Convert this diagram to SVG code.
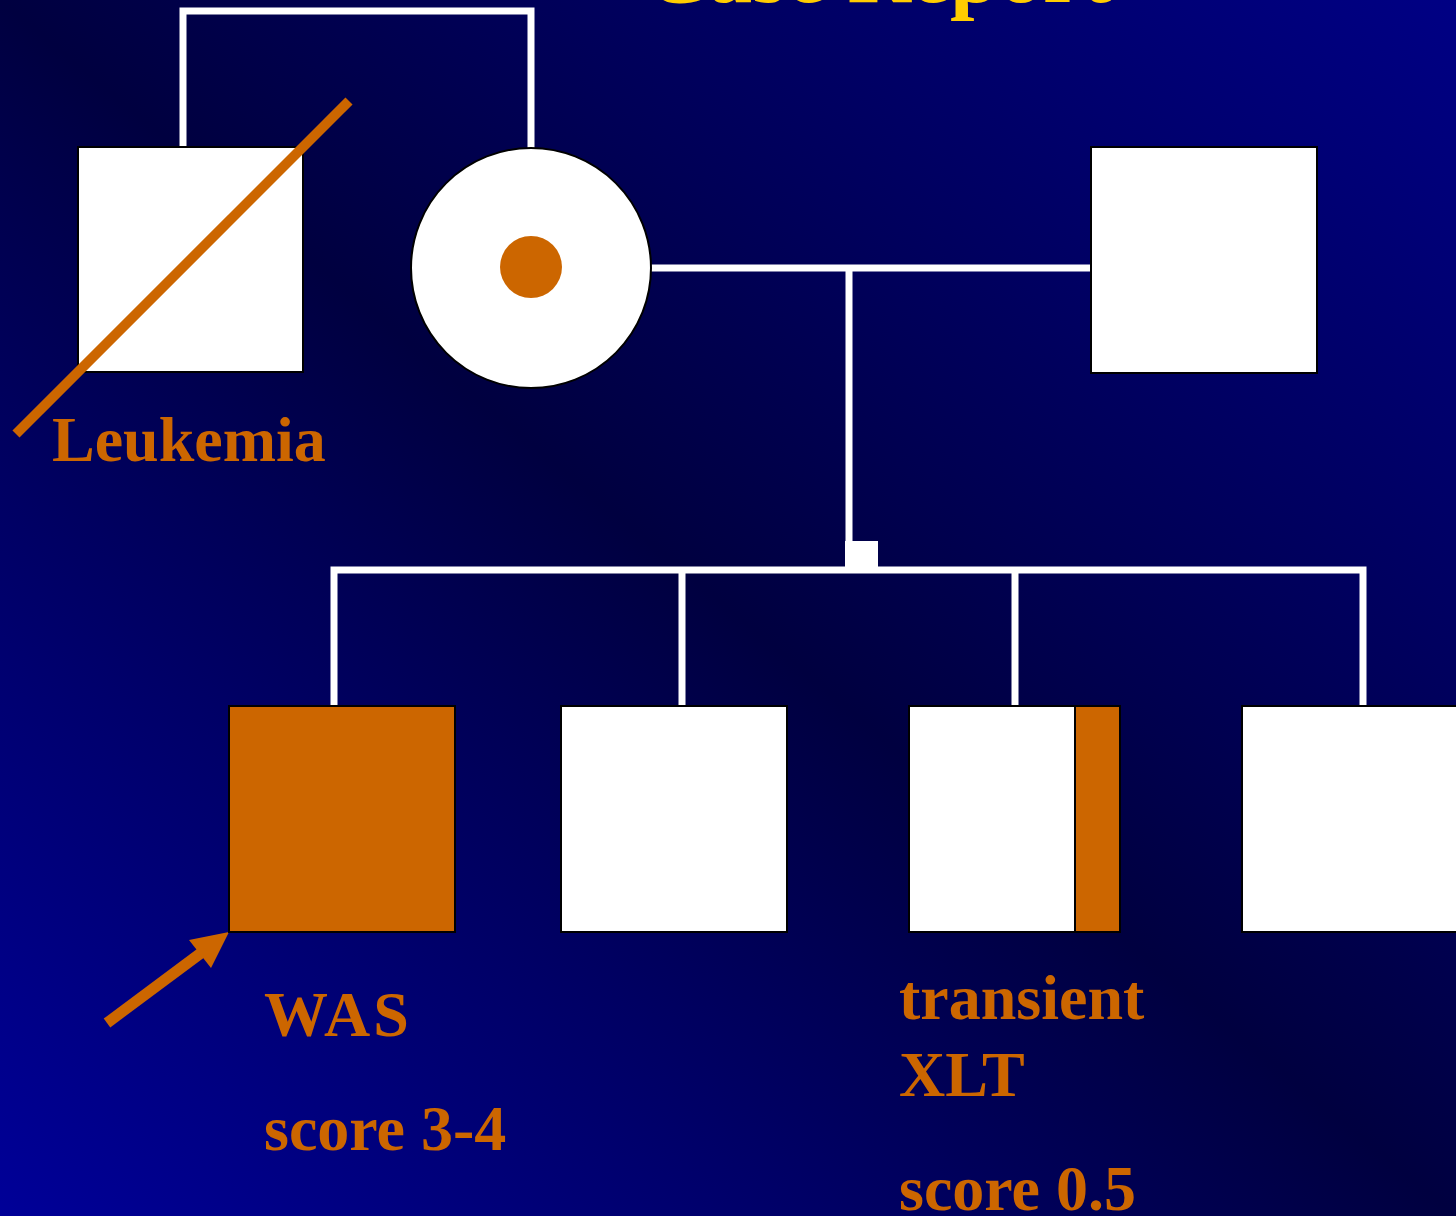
<svg xmlns="http://www.w3.org/2000/svg" width="1456" height="1216" viewBox="0 0 1456 1216">
  <defs>
    <linearGradient id="bg" x1="1" y1="0" x2="0" y2="1">
      <stop offset="0" stop-color="#000084"/>
      <stop offset="0.5" stop-color="#000040"/>
      <stop offset="1" stop-color="#000098"/>
    </linearGradient>
  </defs>
  <style>
    .wht { fill: #ffffff; stroke: #000000; stroke-width: 2; }
    .org { fill: #cc6600; stroke: #000000; stroke-width: 2; }
    .line { fill: none; stroke: #ffffff; stroke-width: 7; }
    .lbl { font-family: "Liberation Serif", "Times New Roman", serif; font-weight: bold; font-size: 64px; fill: #cc6600; }
    .title { font-family: "Liberation Serif", "Times New Roman", serif; font-weight: bold; font-size: 88px; fill: #ffcc00; }
  </style>
  <rect x="0" y="0" width="1456" height="1216" fill="url(#bg)"/>

  <text class="title" x="878" y="2" text-anchor="middle">Case Report</text>

  <g id="connectors">
    <polyline class="line" points="183,147 183,11 531,11 531,148"/>
    <line class="line" x1="651" y1="268" x2="1091" y2="268"/>
    <line class="line" x1="849" y1="268" x2="849" y2="570"/>
    <rect x="845" y="541" width="33" height="30" fill="#ffffff"/>
    <polyline class="line" points="334,706 334,570 1363,570 1363,706"/>
    <line class="line" x1="682" y1="570" x2="682" y2="706"/>
    <line class="line" x1="1015" y1="570" x2="1015" y2="706"/>
    <line x1="107" y1="1023" x2="205" y2="950" stroke="#cc6600" stroke-width="11"/>
    <polygon points="229,932 189,940 211,968" fill="#cc6600"/>
  </g>

  <g id="grandfather">
    <rect class="wht" x="78" y="147" width="225" height="225"/>
    <line x1="16" y1="434" x2="349" y2="101" stroke="#cc6600" stroke-width="10"/>
    <text class="lbl" x="52" y="461">Leukemia</text>
  </g>

  <g id="grandmother">
    <circle class="wht" cx="531" cy="268" r="120"/>
    <circle cx="531" cy="267" r="31" fill="#cc6600"/>
  </g>

  <g id="father">
    <rect class="wht" x="1091" y="147" width="226" height="226"/>
  </g>

  <g id="proband">
    <rect class="org" x="229" y="706" width="226" height="226"/>
    <text class="lbl" x="264" y="1036" letter-spacing="3">WAS</text>
    <text class="lbl" x="264" y="1150">score 3-4</text>
  </g>

  <g id="sibling2">
    <rect class="wht" x="561" y="706" width="226" height="226"/>
  </g>

  <g id="sibling3">
    <rect class="wht" x="909" y="706" width="166" height="226"/>
    <rect class="org" x="1075" y="706" width="45" height="226"/>
    <text class="lbl" x="899" y="1019">transient</text>
    <text class="lbl" x="899" y="1096">XLT</text>
    <text class="lbl" x="899" y="1210">score 0.5</text>
  </g>

  <g id="sibling4">
    <rect class="wht" x="1242" y="706" width="226" height="226"/>
  </g>
</svg>
